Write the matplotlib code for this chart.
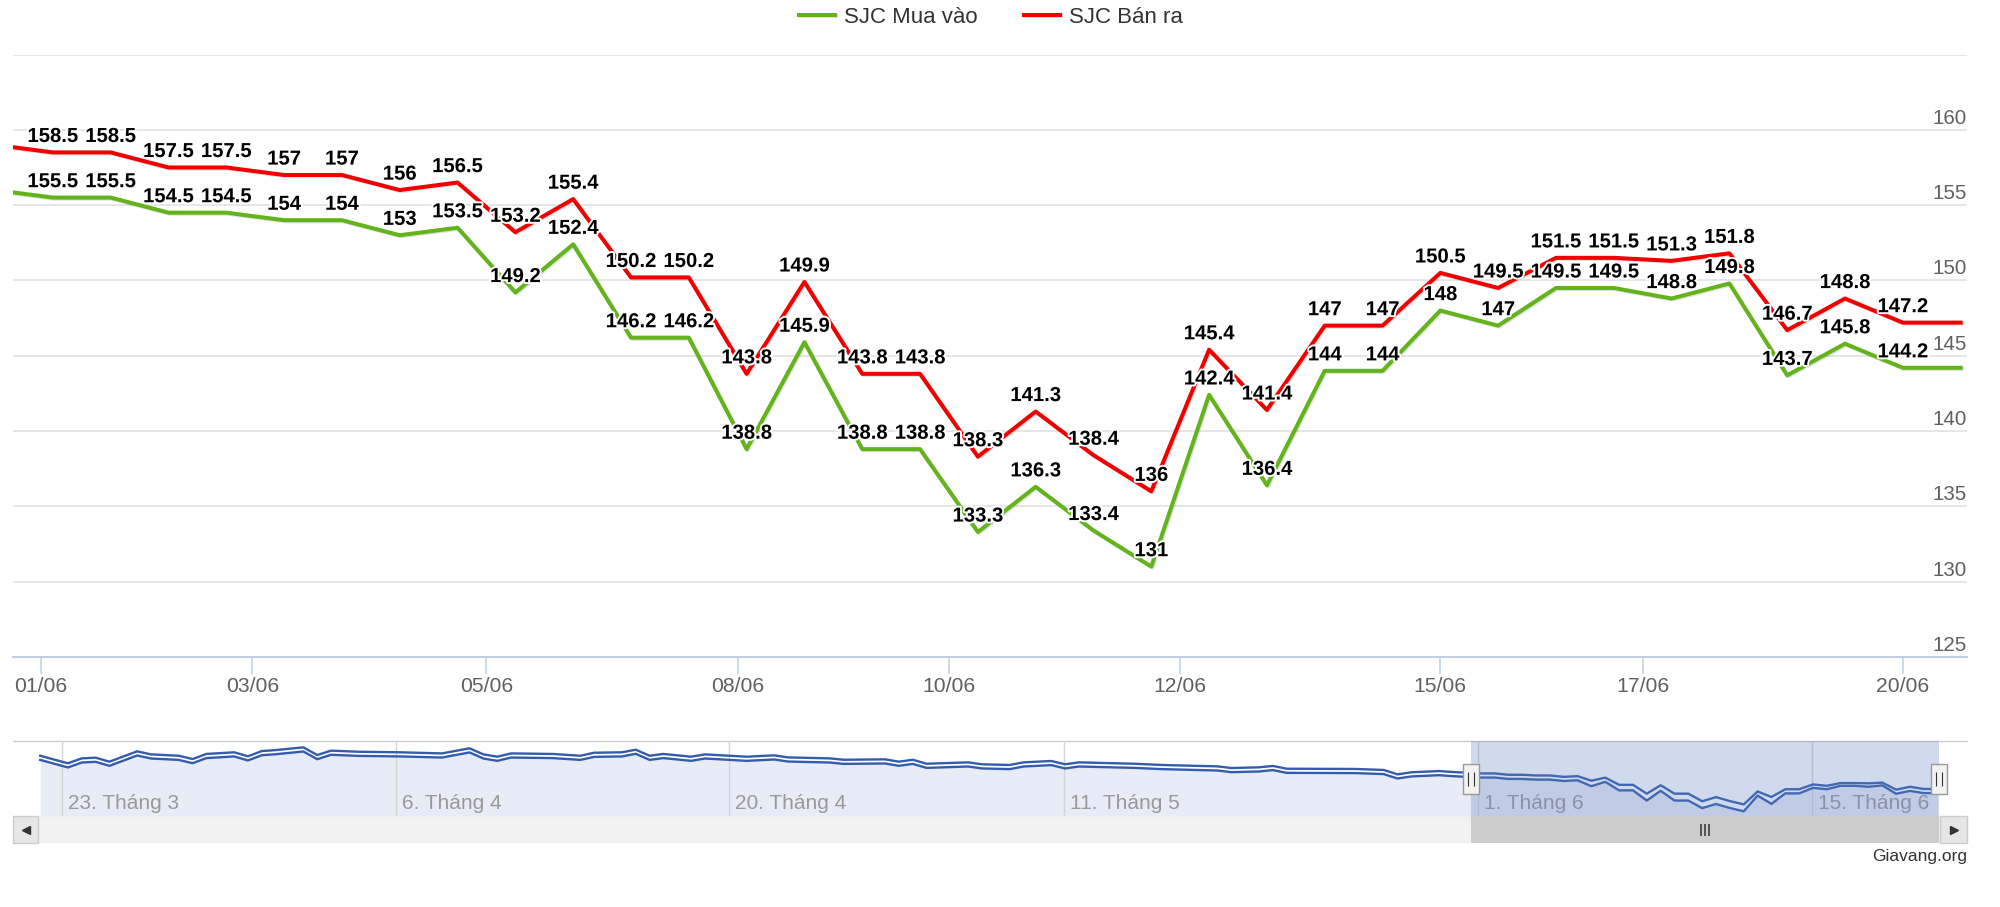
import matplotlib
matplotlib.use("Agg")
import matplotlib.pyplot as plt
import matplotlib.patheffects as pe
from matplotlib.patches import Rectangle
from matplotlib.path import Path
from matplotlib.transforms import blended_transform_factory
import numpy as np

plt.rcParams["font.family"] = ["Liberation Sans", "DejaVu Sans"]

GREEN, RED = "#63b31b", "#f00000"
NAVBLUE = "#335cad"
W, H = 2000, 907

# main view: ordinal point index 0..34 (point 0 sits just left of the plot edge)
sell = [159, 158.5, 158.5, 157.5, 157.5, 157, 157, 156, 156.5, 153.2, 155.4,
        150.2, 150.2, 143.8, 149.9, 143.8, 143.8, 138.3, 141.3, 138.4, 136,
        145.4, 141.4, 147, 147, 150.5, 149.5, 151.5, 151.5, 151.3, 151.8,
        146.7, 148.8, 147.2, 147.2]
buy = [156, 155.5, 155.5, 154.5, 154.5, 154, 154, 153, 153.5, 149.2, 152.4,
       146.2, 146.2, 138.8, 145.9, 138.8, 138.8, 133.3, 136.3, 133.4, 131,
       142.4, 136.4, 144, 144, 148, 147, 149.5, 149.5, 148.8, 149.8,
       143.7, 145.8, 144.2, 144.2]
labeled = list(range(1, 34))
view = (0.31, 34.11)

date_ticks = [0.79, 4.45, 8.5, 12.85, 16.5, 20.5, 25.0, 28.5, 33.0]
date_labels = ["01/06", "03/06", "05/06", "08/06", "10/06", "12/06",
               "15/06", "17/06", "20/06"]

# navigator history before the zoomed range
hist_idx = [-103, -101, -100, -99, -98, -96, -95, -93, -92, -91, -89, -88,
            -87, -86, -84, -83, -82, -80, -77, -74, -72, -71, -70, -69, -66,
            -64, -63, -61, -60, -59, -58, -56, -55, -52, -50, -49, -46, -45,
            -42, -41, -40, -39, -36, -35, -33, -32, -30, -29, -28, -24, -22,
            -18, -17, -15, -14, -13, -8, -6, -5, -4, -2, -1]
hist_sell = [171.3, 165.8, 169.4, 169.9, 167.0, 174.5, 172.3, 171.3, 168.9,
             172.6, 173.8, 170.9, 174.7, 175.4, 177.4, 171.8, 175.0, 174.2,
             173.8, 173.0, 176.7, 172.3, 170.6, 173.0, 172.6, 171.3, 173.5,
             173.8, 175.7, 171.3, 172.6, 170.6, 172.3, 170.6, 171.6, 170.1,
             169.4, 168.4, 168.7, 167.0, 168.4, 165.5, 166.5, 165.1, 164.6,
             166.5, 167.5, 165.1, 166.5, 165.5, 164.6, 163.6, 162.4, 162.9,
             163.9, 161.9, 161.7, 161.0, 157.8, 159.3, 160.2, 159.5]
hist_buy = [168.3, 162.8, 166.4, 166.9, 164.0, 171.5, 169.3, 168.3, 165.9,
            169.6, 170.8, 167.9, 171.7, 172.4, 174.4, 168.8, 172.0, 171.2,
            170.8, 170.0, 173.7, 169.3, 167.6, 170.0, 169.6, 168.3, 170.5,
            170.8, 172.7, 168.3, 169.6, 167.6, 169.3, 167.6, 168.6, 167.1,
            166.4, 165.4, 165.7, 164.0, 165.4, 162.5, 163.5, 162.1, 161.6,
            163.5, 164.5, 162.1, 163.5, 162.5, 161.6, 160.6, 159.4, 159.9,
            160.9, 158.9, 158.7, 158.0, 154.8, 156.3, 157.2, 156.5]
nav_ticks = [-101.4, -77.3, -53.3, -29.1, 0.82, 24.9]
nav_labels = ["23. Tháng 3", "6. Tháng 4", "20. Tháng 4", "11. Tháng 5",
              "1. Tháng 6", "15. Tháng 6"]
nav_view = (-103.16, 34.17)
nav_y = (127.6, 182)


def box(l, t, r, b):
    return [l / W, 1 - b / H, (r - l) / W, (b - t) / H]


fig = plt.figure(figsize=(W / 100, H / 100), dpi=100)
deco = fig.add_axes([0, 0, 1, 1], zorder=-1)
ax = fig.add_axes(box(13, 54.5, 1967, 657))
nav = fig.add_axes(box(38, 741, 1940, 816))

# ---- main chart
x = np.arange(len(sell))
shadow = [pe.SimpleLineShadow(offset=(0.8, -0.8), shadow_color="k", alpha=0.12),
          pe.Normal()]
ax.plot(x, buy, color=GREEN, lw=2.9, solid_joinstyle="round",
        label="SJC Mua vào", zorder=3, path_effects=shadow)
ax.plot(x, sell, color=RED, lw=2.9, solid_joinstyle="round",
        label="SJC Bán ra", zorder=3, path_effects=shadow)
ax.set_xlim(*view)
ax.set_ylim(125, 165)
ax.set_yticks(np.arange(125, 166, 5))
ax.tick_params(axis="y", length=0, labelleft=False)
ax.grid(axis="y", color="#e6e6e6", lw=1.4)
ax.set_axisbelow(True)
for sp in ("top", "right", "left"):
    ax.spines[sp].set_visible(False)
ax.spines["bottom"].set_color("#c0d0e0")
ax.spines["bottom"].set_linewidth(1.5)
ax.set_xticks(date_ticks, date_labels)
ax.tick_params(axis="x", length=12.2, width=1.1, color="#c0d0e0", pad=2,
               labelsize=15.2, labelcolor="#606060")

for v in ax.get_yticks()[:-1]:
    ax.annotate(f"{v:g}", xy=(1, v), xycoords=("axes fraction", "data"),
                xytext=(0, 4.3), textcoords="offset points", ha="right",
                va="baseline", fontsize=14.8, color="#606060", zorder=1)

outline = [pe.withStroke(linewidth=2.8, foreground="white")]
for ser in (sell, buy):
    for i in labeled:
        ax.annotate(f"{ser[i]:g}", (x[i], ser[i]), xytext=(0, 7.5),
                    textcoords="offset points", ha="center", va="baseline",
                    fontsize=14.6, fontweight="bold", color="black",
                    path_effects=outline, zorder=5)

fig.legend(loc="center", bbox_to_anchor=(0.4955, 1 - 17.3 / H), ncol=2,
           frameon=False, fontsize=16, handlelength=1.6, handletextpad=0.4,
           columnspacing=2.1, labelcolor="#333333")

# ---- navigator
nx = hist_idx + list(x)
ns = hist_sell + sell
nb = hist_buy + buy
nav.set_xlim(*nav_view)
nav.set_ylim(*nav_y)
nav.patch.set_visible(False)
nav.axis("off")
nav.fill_between(nx, nb, nav_y[0], color="#e8ecf6", lw=0, zorder=1)
for t in nav_ticks:
    nav.axvline(t, color="#d6d6d6", lw=1, zorder=1.5)
nav.plot(nx, ns, color=NAVBLUE, lw=1.7, zorder=2)
nav.plot(nx, nb, color=NAVBLUE, lw=1.7, zorder=2)
for t, lab in zip(nav_ticks, nav_labels):
    nav.annotate(lab, xy=(t, 0), xycoords=("data", "axes fraction"),
                 xytext=(4.3, 5), textcoords="offset points", ha="left",
                 va="baseline", fontsize=15, color="#999999", zorder=2.5)
nav.axvspan(*view, color=(102 / 255, 133 / 255, 194 / 255, 0.3), lw=0, zorder=3)

bt = blended_transform_factory(nav.transData, nav.transAxes)
nav.add_patch(Rectangle((view[0], -0.36), view[1] - view[0], 0.36, transform=bt,
                        facecolor="#cccccc", lw=0, clip_on=False, zorder=5))
grip3 = Path([(-0.35, -0.5), (-0.35, 0.5), (0, -0.5), (0, 0.5), (0.35, -0.5), (0.35, 0.5)],
             [Path.MOVETO, Path.LINETO] * 3)
nav.plot([(view[0] + view[1]) / 2], [-0.18], transform=bt, ls="none",
         marker=grip3, ms=8.5, mec="#333333", mew=1.1, clip_on=False, zorder=6)
handle = [(-0.26, -0.5), (0.26, -0.5), (0.26, 0.5), (-0.26, 0.5), (-0.26, -0.5)]
nav.plot(view, [0.5, 0.5], transform=bt, ls="none", marker=handle, ms=20.9,
         mfc="#f2f2f2", mec="#999999", mew=1, clip_on=False, zorder=6)
grip2 = Path([(-0.25, -0.5), (-0.25, 0.5), (0.25, -0.5), (0.25, 0.5)],
             [Path.MOVETO, Path.LINETO] * 2)
nav.plot(view, [0.5, 0.5], transform=bt, ls="none", marker=grip2, ms=9.5,
         mec="#333333", mew=0.8, clip_on=False, zorder=7)

# ---- scrollbar / frame decorations in pixel space
deco.set_xlim(0, W)
deco.set_ylim(H, 0)
deco.axis("off")
deco.plot([13, 1967], [741, 741], color="#cccccc", lw=1)
deco.add_patch(Rectangle((13, 816), 1954, 27, facecolor="#f2f2f2", lw=0))
deco.add_patch(Rectangle((13, 816), 25, 27, facecolor="#e6e6e6",
                         edgecolor="#cccccc", lw=1))
deco.add_patch(Rectangle((1940, 816), 27, 27, facecolor="#e6e6e6",
                         edgecolor="#cccccc", lw=1))
deco.plot([25.5], [829.5], marker="<", ms=5.5, color="#333333")
deco.plot([1953.5], [829.5], marker=">", ms=5.5, color="#333333")
deco.text(1967, 857, "Giavang.org", ha="right", va="center", fontsize=12.5,
          color="#333333")

fig.savefig("out.png", dpi=100)
